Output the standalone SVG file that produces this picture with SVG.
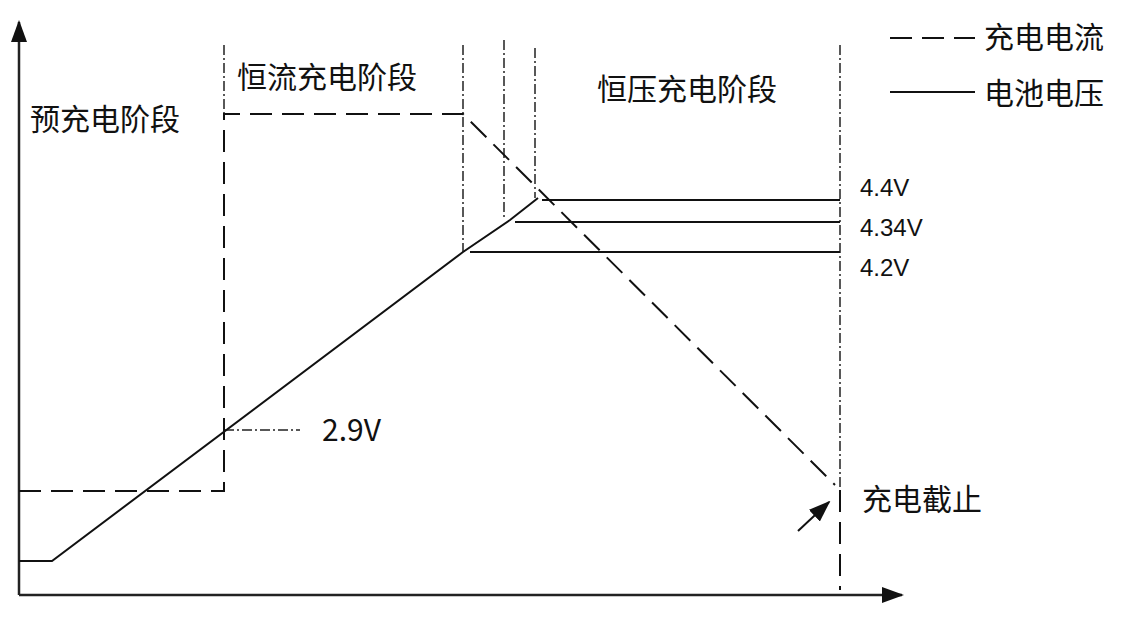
<svg xmlns="http://www.w3.org/2000/svg" width="1142" height="621" viewBox="0 0 1142 621">
<style>
.t{font-family:"Noto Sans CJK SC","Liberation Sans",sans-serif;fill:#111;font-size:30px}
.v{font-family:"Liberation Sans",sans-serif;fill:#111;font-size:24px}
.ax{stroke:#222;stroke-width:2.5;fill:none}
.s{stroke:#111;stroke-width:2;fill:none}
.d{stroke:#111;stroke-width:2;fill:none;stroke-dasharray:22 10}
.dd{stroke:#222;stroke-width:1.5;fill:none;stroke-dasharray:10 3 2 3}
</style>
<defs>
<marker id="ah" markerWidth="10" markerHeight="8" refX="9" refY="4" orient="auto" markerUnits="userSpaceOnUse" viewBox="0 0 10 8"><path d="M0,0L10,4L0,8z" fill="#111"/></marker>
<marker id="ab" markerWidth="22" markerHeight="16" refX="20" refY="8" orient="auto" markerUnits="userSpaceOnUse"><path d="M0,0L22,8L0,16z" fill="#111"/></marker>
</defs>
<g id="connectors">
<path class="ax" d="M19,595V22" marker-end="url(#ab)"/>
<path class="ax" d="M19,595H902" marker-end="url(#ab)"/>
<path class="dd" d="M224,45V114M463,45V252M504,40V220M535,48V198M840,45V487M224,430H300"/>
<path class="d" d="M840,490V590"/>
<path class="s" d="M19,561H52L463,252L510,220L538,198"/>
<path class="s" d="M542,200H840M515,222H840M470,252H840"/>
<path class="d" d="M19,491H224V114H463L835,485"/>
<path class="s" stroke-width="2.5" d="M798,531L829,502" marker-end="url(#ab)"/>
<path class="d" d="M890,38H975"/>
<path class="s" d="M890,92H975"/>
</g>
<g id="labels">
<text class="t" x="30" y="130">预充电阶段</text>
<text class="t" x="237" y="88">恒流充电阶段</text>
<text class="t" x="597" y="100">恒压充电阶段</text>
<text class="t" x="322" y="441" font-family="Liberation Sans,sans-serif">2.9V</text>
<text class="v" x="860" y="196">4.4V</text>
<text class="v" x="860" y="236">4.34V</text>
<text class="v" x="860" y="276">4.2V</text>
<text class="t" x="862" y="510">充电截止</text>
<text class="t" x="984" y="48">充电电流</text>
<text class="t" x="984" y="104">电池电压</text>
</g>
</svg>
